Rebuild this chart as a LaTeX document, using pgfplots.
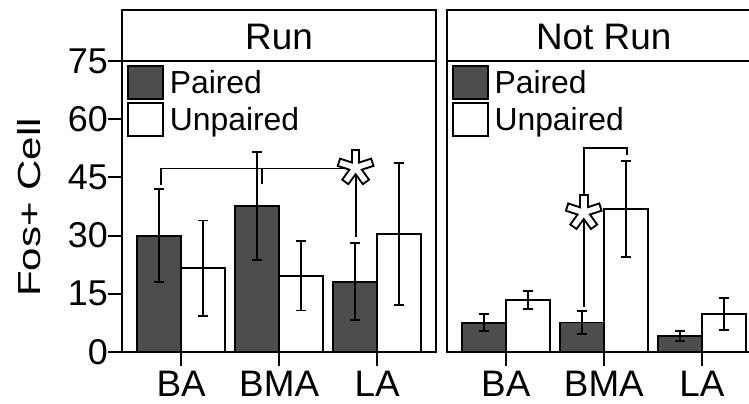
\documentclass[border=0pt]{standalone}
\usepackage{pgfplots}
\pgfplotsset{compat=1.18}
\usepackage{fontspec}
\setmainfont{Liberation Sans}
\definecolor{paired}{RGB}{77,77,77}
\def\lw{1.9bp}

\pgfplotsset{
  panel/.style={
    scale only axis, width=314bp, height=291bp,
    anchor=south west,
    ymin=0, ymax=75, xmin=0.397, xmax=3.6,
    ybar, bar width=0.45,
    xtick={1,2,3}, xticklabels={BA,BMA,LA},
    xtick pos=bottom, ytick pos=left,
    tick align=outside, major tick length=14bp,
    axis line style={line width=\lw},
    every tick/.style={black, line width=\lw},
    /pgf/number format/assume math mode=true,
    tick label style={font=\fontsize{36}{40}\selectfont},
    xticklabel style={inner sep=0pt, yshift=-5bp, font=\fontsize{37}{40}\selectfont},
    yticklabel style={inner sep=0pt},
    clip=false,
    legend image code/.code={\draw[#1, line width=\lw] (0bp,-16.5bp) rectangle (35bp,16.5bp);},
    legend style={draw=none, fill=none, at={(0.015,0.986)}, anchor=north west,
      inner sep=0pt, row sep=2bp,
      nodes={inner sep=0pt, font=\fontsize{32}{34}\selectfont},
      /tikz/every odd column/.append style={column sep=6bp}},
    legend cell align=left,
  },
  pbar/.style={draw=black, fill=paired, line width=\lw, bar shift=-0.225,
    error bars/.cd, y dir=both, y explicit,
    error bar style={line width=\lw, black, solid},
    error mark options={rotate=90, mark size=4.8bp, line width=\lw, black}},
  ubar/.style={draw=black, fill=white, line width=\lw, bar shift=0.225,
    error bars/.cd, y dir=both, y explicit,
    error bar style={line width=\lw, black, solid},
    error mark options={rotate=90, mark size=4.8bp, line width=\lw, black}},
}

\newcommand{\oast}[1]{%
  \foreach \a in {90,18,162,234,306} \draw[black, line width=9.5bp] (#1) -- ++(\a:18.5bp);
  \foreach \a in {90,18,162,234,306} \draw[white, line width=5.5bp] (#1) -- ++(\a:16.5bp);
}

\begin{document}
\begin{tikzpicture}
\path[use as bounding box] (0bp,0bp) rectangle (749bp,-404bp);

% Left panel: Run
\begin{axis}[panel, at={(122bp,-352bp)}, ytick={0,15,30,45,60,75}]
\addplot[pbar] coordinates {(1,30) +- (0,12) (2,37.6) +- (0,14) (3,18.1) +- (0,9.9)};
\addplot[ubar] coordinates {(1,21.6) +- (0,12.3) (2,19.7) +- (0,9) (3,30.4) +- (0,18.2)};
\legend{Paired,Unpaired}
\draw[line width=\lw] (axis cs:0.797,43) -- (axis cs:0.797,47.3) -- (axis cs:2.78,47.3) -- (axis cs:2.78,29.7);
\draw[line width=\lw] (axis cs:1.824,47.3) -- (axis cs:1.824,43.3);
\coordinate (astL) at (axis cs:2.78,47.5);
\end{axis}

% Right panel: Not Run
\begin{axis}[panel, at={(446.7bp,-352bp)}, ytick=\empty]
\addplot[pbar] coordinates {(1,7.5) +- (0,2.2) (2,7.6) +- (0,3) (3,4.1) +- (0,1.3)};
\addplot[ubar] coordinates {(1,13.4) +- (0,2.3) (2,36.9) +- (0,12.3) (3,9.8) +- (0,4.2)};
\legend{Paired,Unpaired}
\draw[line width=\lw] (axis cs:1.795,11.7) -- (axis cs:1.795,52.65) -- (axis cs:2.232,52.65) -- (axis cs:2.232,50.8);
\coordinate (astR) at (axis cs:1.795,35.95);
\end{axis}

\oast{astL}
\oast{astR}

% strips
\draw[line width=\lw] (122bp,-61bp) rectangle (436bp,-10bp);
\node[font=\fontsize{37}{40}\selectfont, inner sep=0pt] at (279bp,-37bp) {Run};
\draw[line width=\lw] (446.7bp,-61bp) rectangle (760.7bp,-10bp);
\node[font=\fontsize{37}{40}\selectfont, inner sep=0pt] at (603.7bp,-37bp) {Not Run};

% y label
\node[rotate=90, anchor=base, inner sep=0pt, font=\fontsize{32}{34}\selectfont] at (40bp,-207.5bp) {\scalebox{1.32}[1]{Fos+ Cell}};
\end{tikzpicture}
\end{document}
